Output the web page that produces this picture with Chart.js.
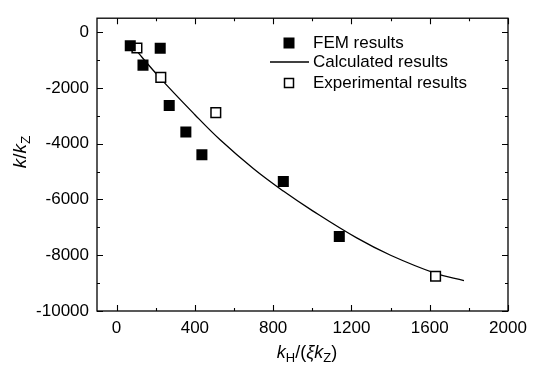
<!DOCTYPE html>
<html>
<head>
<meta charset="utf-8">
<script src="https://cdn.jsdelivr.net/npm/chart.js@4.4.1/dist/chart.umd.min.js"></script>
<style>
  html, body { margin: 0; padding: 0; background: #fff; }
  #wrap { width: 534px; height: 367px; }
</style>
</head>
<body>
<div id="wrap"><canvas id="grafiek" width="534" height="367"></canvas></div>
<script>
// Waarden
const femX = [70, 223, 135, 269, 354, 436, 852, 1138];
const femY = [-487, -581, -1183, -2633, -3583, -4400, -5356, -7328];

const expX = [104, 226, 507, 1630];
const expY = [-570, -1624, -2887, -8754];

const calcX = [85, 223, 400, 529, 700, 852, 1000, 1227, 1400, 1630, 1775];
const calcY = [-530, -1649, -2960, -3860, -4900, -5700, -6400, -7380, -8000, -8650, -8910];

const xTicks = [0, 400, 800, 1200, 1600, 2000];
const xMinor = [200, 600, 1000, 1400, 1800];
const yTicks = [0, -2000, -4000, -6000, -8000, -10000];
const yMinor = [-1000, -3000, -5000, -7000, -9000];

const legendLabels = ['FEM results', 'Calculated results', 'Experimental results'];

const FONT = '"Liberation Sans", Arial, sans-serif';

function toPoints(xs, ys) {
    return xs.map((x, i) => ({ x: x, y: ys[i] }));
}

// tekst met cursief en subscript
function drawRich(ctx, parts, size) {
    const fontFor = p => (p[1] === 'i' ? 'italic ' : '') + (p[1] === 's' ? size * 0.72 : size) + 'px ' + FONT;
    let total = 0;
    parts.forEach(p => { ctx.font = fontFor(p); total += ctx.measureText(p[0]).width; });
    let x = -total / 2;
    parts.forEach(p => {
        ctx.font = fontFor(p);
        ctx.fillText(p[0], x, p[1] === 's' ? size * 0.22 : 0);
        x += ctx.measureText(p[0]).width;
    });
}

// kader, naar binnen gerichte ticks, legenda en astitels
const extras = {
    id: 'extras',
    afterDraw(chart) {
        const ctx = chart.ctx;
        const a = chart.chartArea;
        const xs = chart.scales.x;
        const ys = chart.scales.y;
        ctx.save();
        ctx.strokeStyle = '#000';
        ctx.fillStyle = '#000';
        ctx.lineWidth = 1.3;
        ctx.strokeRect(a.left, a.top, a.right - a.left, a.bottom - a.top);

        ctx.beginPath();
        const tickX = (vals, len) => vals.forEach(v => {
            const px = Math.round(xs.getPixelForValue(v)) + 0.5;
            ctx.moveTo(px, a.bottom); ctx.lineTo(px, a.bottom - len);
            ctx.moveTo(px, a.top); ctx.lineTo(px, a.top + len);
        });
        const tickY = (vals, len) => vals.forEach(v => {
            const py = Math.round(ys.getPixelForValue(v)) + 0.5;
            ctx.moveTo(a.left, py); ctx.lineTo(a.left + len, py);
            ctx.moveTo(a.right, py); ctx.lineTo(a.right - len, py);
        });
        tickX(xTicks, 6); tickX(xMinor, 3);
        tickY(yTicks, 6); tickY(yMinor, 3);
        ctx.lineWidth = 1.1;
        ctx.stroke();

        // legenda
        ctx.font = '17px ' + FONT;
        ctx.textBaseline = 'middle';
        ctx.textAlign = 'left';
        ctx.fillRect(289 - 5.5, 43 - 5.5, 11, 11);
        ctx.fillText(legendLabels[0], 313, 43);
        ctx.beginPath();
        ctx.lineWidth = 1.3;
        ctx.moveTo(270, 62); ctx.lineTo(309, 62);
        ctx.stroke();
        ctx.fillText(legendLabels[1], 313, 62);
        ctx.lineWidth = 1.5;
        ctx.strokeRect(289 - 4.5, 83 - 4.5, 9, 9);
        ctx.fillText(legendLabels[2], 313, 83);

        // astitels
        ctx.textBaseline = 'alphabetic';
        ctx.save();
        ctx.translate(307, 358);
        drawRich(ctx, [['k', 'i'], ['H', 's'], ['/(', ''], ['\u03BE', 'i'], ['k', 'i'], ['Z', 's'], [')', '']], 18);
        ctx.restore();
        ctx.save();
        ctx.translate(26, 152);
        ctx.rotate(-Math.PI / 2);
        drawRich(ctx, [['k', 'i'], ['/', ''], ['k', 'i'], ['Z', 's']], 19);
        ctx.restore();
        ctx.restore();
    }
};

new Chart(document.getElementById('grafiek').getContext('2d'), {
    type: 'scatter',
    data: {
        datasets: [
            {
                label: legendLabels[1],
                data: toPoints(calcX, calcY),
                showLine: true,
                borderColor: '#000',
                borderWidth: 1.3,
                pointRadius: 0,
                tension: 0.4,
                order: 3
            },
            {
                label: legendLabels[2],
                data: toPoints(expX, expY),
                pointStyle: 'rect',
                pointRadius: 6.8,
                borderWidth: 1.5,
                borderColor: '#000',
                backgroundColor: '#fff',
                order: 2
            },
            {
                label: legendLabels[0],
                data: toPoints(femX, femY),
                pointStyle: 'rect',
                pointRadius: 7.8,
                borderWidth: 0,
                backgroundColor: '#000',
                order: 1
            }
        ]
    },
    options: {
        responsive: false,
        animation: false,
        layout: { padding: { top: 11, right: 26, left: 0, bottom: 0 } },
        plugins: { legend: { display: false }, tooltip: { enabled: false } },
        scales: {
            x: {
                type: 'linear',
                min: -100,
                max: 2000,
                grid: { display: false, drawTicks: false },
                border: { display: false },
                afterBuildTicks: s => { s.ticks = xTicks.map(v => ({ value: v })); },
                afterFit: s => { s.height = 56; },
                ticks: { color: '#000', padding: 7, font: { family: FONT, size: 17 }, callback: v => String(v) }
            },
            y: {
                type: 'linear',
                min: -10000,
                max: 500,
                grid: { display: false, drawTicks: false },
                border: { display: false },
                afterBuildTicks: s => { s.ticks = yTicks.map(v => ({ value: v })); },
                afterFit: s => { s.width = 97; },
                ticks: { color: '#000', padding: 8, font: { family: FONT, size: 17 }, callback: v => String(v) }
            }
        }
    },
    plugins: [extras]
});
</script>
</body>
</html>
